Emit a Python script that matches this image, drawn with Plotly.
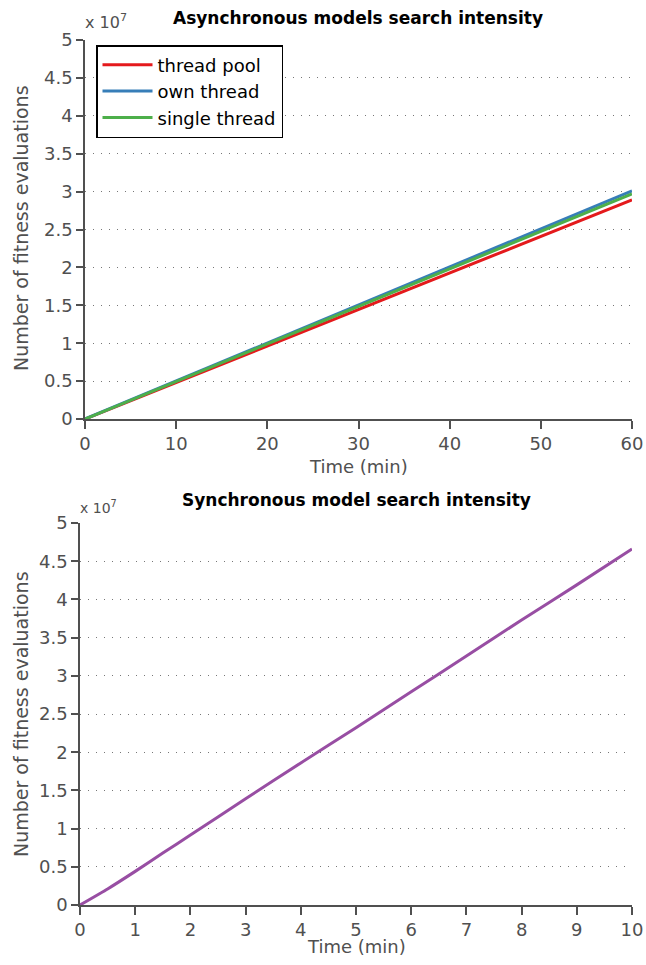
import plotly.graph_objects as go

W, H = 646, 965

# ---- data ----
t_async = [0, 10, 20, 30, 40, 50, 60]
thread_pool = [0, 0.48e7, 0.96e7, 1.44e7, 1.92e7, 2.40e7, 2.89e7]
own_thread = [0, 0.50e7, 1.00e7, 1.50e7, 2.00e7, 2.50e7, 3.01e7]
single_thread = [0, 0.495e7, 0.99e7, 1.48e7, 1.97e7, 2.47e7, 2.97e7]

t_sync = [0, 0.5, 1, 1.5, 2, 3, 4, 5, 6, 7, 8, 9, 10]
sync_model = [0, 0.21e7, 0.44e7, 0.68e7, 0.915e7, 1.39e7, 1.86e7, 2.32e7,
              2.79e7, 3.26e7, 3.73e7, 4.19e7, 4.66e7]

y_tickvals = [0, 0.5e7, 1e7, 1.5e7, 2e7, 2.5e7, 3e7, 3.5e7, 4e7, 4.5e7, 5e7]
y_ticktext = ["0", "0.5", "1", "1.5", "2", "2.5", "3", "3.5", "4", "4.5", "5"]
x_ticks_async = [0, 10, 20, 30, 40, 50, 60]
x_ticks_sync = [0, 1, 2, 3, 4, 5, 6, 7, 8, 9, 10]

FONT = "DejaVu Sans"
GREY = "#505050"

fig = go.Figure()
fig.add_trace(go.Scatter(x=t_async, y=thread_pool, mode="lines", name="thread pool",
                         line=dict(color="#e41a1c", width=3), xaxis="x", yaxis="y"))
fig.add_trace(go.Scatter(x=t_async, y=own_thread, mode="lines", name="own thread",
                         line=dict(color="#377eb8", width=3), xaxis="x", yaxis="y"))
fig.add_trace(go.Scatter(x=t_async, y=single_thread, mode="lines", name="single thread",
                         line=dict(color="#4daf4a", width=3), xaxis="x", yaxis="y"))
fig.add_trace(go.Scatter(x=t_sync, y=sync_model, mode="lines", name="synchronous",
                         line=dict(color="#984ea3", width=3, shape="spline", smoothing=0.5),
                         xaxis="x2", yaxis="y2", showlegend=False))


def px_x(p):
    return p / W


def px_y(p):
    return 1 - p / H


common_x = dict(showline=True, linecolor=GREY, linewidth=1.5, ticks="outside",
                ticklen=8, tickcolor=GREY, tickwidth=1.5, showgrid=False, zeroline=False,
                automargin=False, tickfont=dict(family=FONT, size=18, color=GREY))
common_y = dict(showline=True, linecolor=GREY, linewidth=1.5, ticks="outside",
                ticklen=7, tickcolor=GREY, tickwidth=1.5, showgrid=True,
                gridcolor="#777777", griddash="1px,7px", gridwidth=1, zeroline=False,
                automargin=False, tickvals=y_tickvals, ticktext=y_ticktext, range=[0, 5e7],
                tickfont=dict(family=FONT, size=18, color=GREY))

fig.update_layout(
    width=W, height=H, margin=dict(l=0, r=0, t=0, b=0, autoexpand=False),
    paper_bgcolor="white", plot_bgcolor="white",
    xaxis=dict(domain=[px_x(85), px_x(632)], range=[0, 60], tickvals=x_ticks_async,
               anchor="y", **common_x),
    yaxis=dict(domain=[px_y(419), px_y(40)], anchor="x", **common_y),
    xaxis2=dict(domain=[px_x(80), px_x(632)], range=[0, 10], tickvals=x_ticks_sync,
                anchor="y2", **common_x),
    yaxis2=dict(domain=[px_y(905), px_y(523)], anchor="x2", **common_y),
    legend=dict(x=px_x(96), y=px_y(45), xanchor="left", yanchor="top",
                bgcolor="white", bordercolor="black", borderwidth=1.5,
                font=dict(family=FONT, size=18, color="black"),
                tracegroupgap=0, itemwidth=50),
    showlegend=True,
)


def label(text, x, y, size, color=GREY, angle=0, xanchor="center"):
    fig.add_annotation(text=text, xref="paper", yref="paper", x=px_x(x), y=px_y(y),
                       xanchor=xanchor, yanchor="middle", showarrow=False, textangle=angle,
                       font=dict(family=FONT, size=size, color=color))


label("<b>Asynchronous models search intensity</b>", 358, 18, 17, color="black")
label("<b>Synchronous model search intensity</b>", 356, 500, 17, color="black")
label("x 10<sup>7</sup>", 83, 22, 16, xanchor="left")
label("x 10<sup>7</sup>", 78, 507, 14, xanchor="left")
label("Time (min)", 358, 466, 18)
label("Time (min)", 356, 946, 18)
label("Number of fitness evaluations", 21, 228, 19, angle=-90)
label("Number of fitness evaluations", 21, 714, 19, angle=-90)

fig.write_html("out.html",
               config={"displayModeBar": False},
               post_script="document.body.style.margin='0px';"
                           "document.body.style.overflow='hidden';")
